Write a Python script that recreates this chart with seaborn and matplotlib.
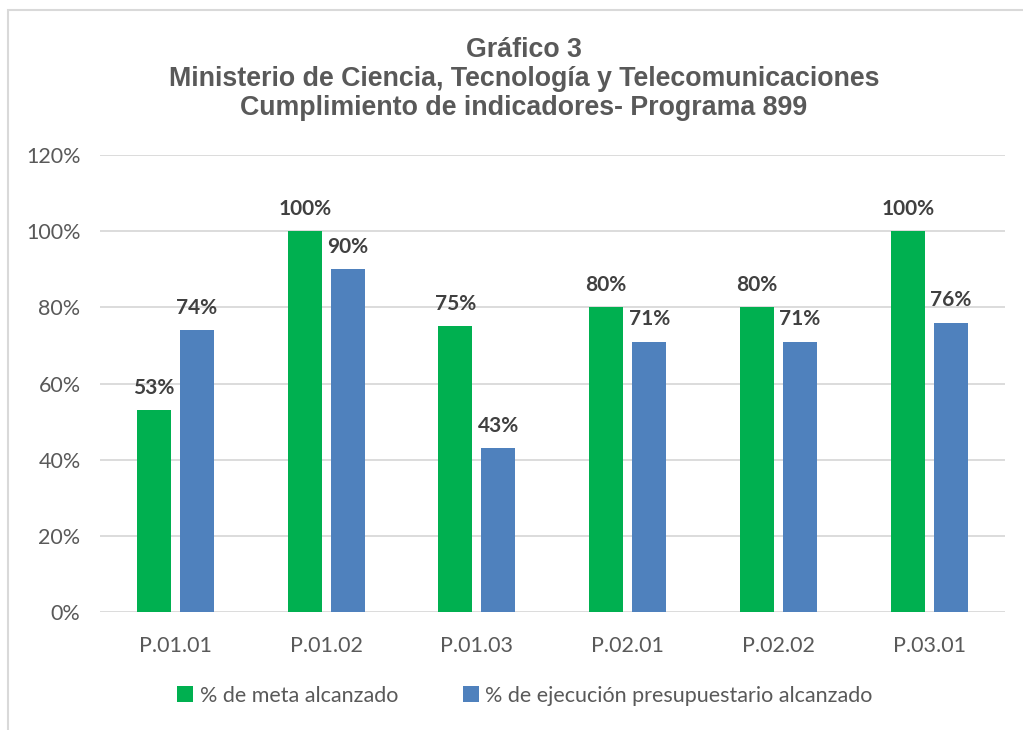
import matplotlib
matplotlib.use("Agg")
import matplotlib.pyplot as plt
from matplotlib.patches import Rectangle, Patch
import seaborn as sns
import pandas as pd

# data
programas = ["P.01.01", "P.01.02", "P.01.03", "P.02.01", "P.02.02", "P.03.01"]
meta = [53, 100, 75, 80, 80, 100]
ejecucion = [74, 90, 43, 71, 71, 76]
series = ["% de meta alcanzado", "% de ejecución presupuestario alcanzado"]
colores = ["#00B050", "#4F81BD"]

df = pd.DataFrame({
    "programa": programas * 2,
    "valor": meta + ejecucion,
    "serie": [series[0]] * len(programas) + [series[1]] * len(programas),
})

sns.set_style("white")
plt.rcParams["font.family"] = ["Lato", "DejaVu Sans"]

fig = plt.figure(figsize=(10.23, 7.30), dpi=100)
ax = fig.add_axes([0.0978, 0.1616, 0.8842, 0.6261])

sns.barplot(data=df, x="programa", y="valor", hue="serie", hue_order=series,
            palette=colores, width=0.57, gap=0.21, saturation=1,
            linewidth=0, legend=False, ax=ax)

# data labels
for cont in ax.containers:
    for bar in cont:
        h = bar.get_height()
        ax.text(bar.get_x() + bar.get_width() / 2, h + 3.3, f"{h:.0f}%",
                ha="center", va="bottom", fontsize=15, fontweight="bold",
                color="#404040")

ax.set_ylim(0, 120)
ax.set_yticks(range(0, 121, 20))
ax.set_yticklabels([f"{v}%" for v in range(0, 121, 20)])
ax.set_xlim(-0.5, 5.5)
ax.set_xlabel("")
ax.set_ylabel("")
ax.grid(axis="y", color="#D9D9D9", linewidth=1.3)
ax.set_axisbelow(True)
for s in ax.spines.values():
    s.set_visible(False)
ax.tick_params(axis="both", length=0, labelsize=15.5, colors="#595959")
ax.tick_params(axis="x", pad=17)
ax.tick_params(axis="y", pad=14)

# title
fig.text(0.512, 0.8915, "Gráfico 3\nMinisterio de Ciencia, Tecnología y Telecomunicaciones\nCumplimiento de indicadores- Programa 899",
         ha="center", va="center", fontsize=19.3, fontweight="bold",
         color="#595959", family=["Liberation Sans", "DejaVu Sans"],
         linespacing=1.16)

# legend
handles = [Patch(facecolor=c, edgecolor="none") for c in colores]
fig.legend(handles, series, loc="center", bbox_to_anchor=(0.513, 0.047),
           ncol=2, frameon=False, fontsize=15.5, handlelength=0.75,
           handleheight=0.75, handletextpad=0.3, columnspacing=3.0,
           labelcolor="#595959")

# chart frame
fig.patches.append(Rectangle((8 / 1023, -0.1), 1.1, 1.1 - 10 / 730,
                             transform=fig.transFigure, fill=False,
                             edgecolor="#D9D9D9", linewidth=1.5))

fig.savefig("out.png", dpi=100)
